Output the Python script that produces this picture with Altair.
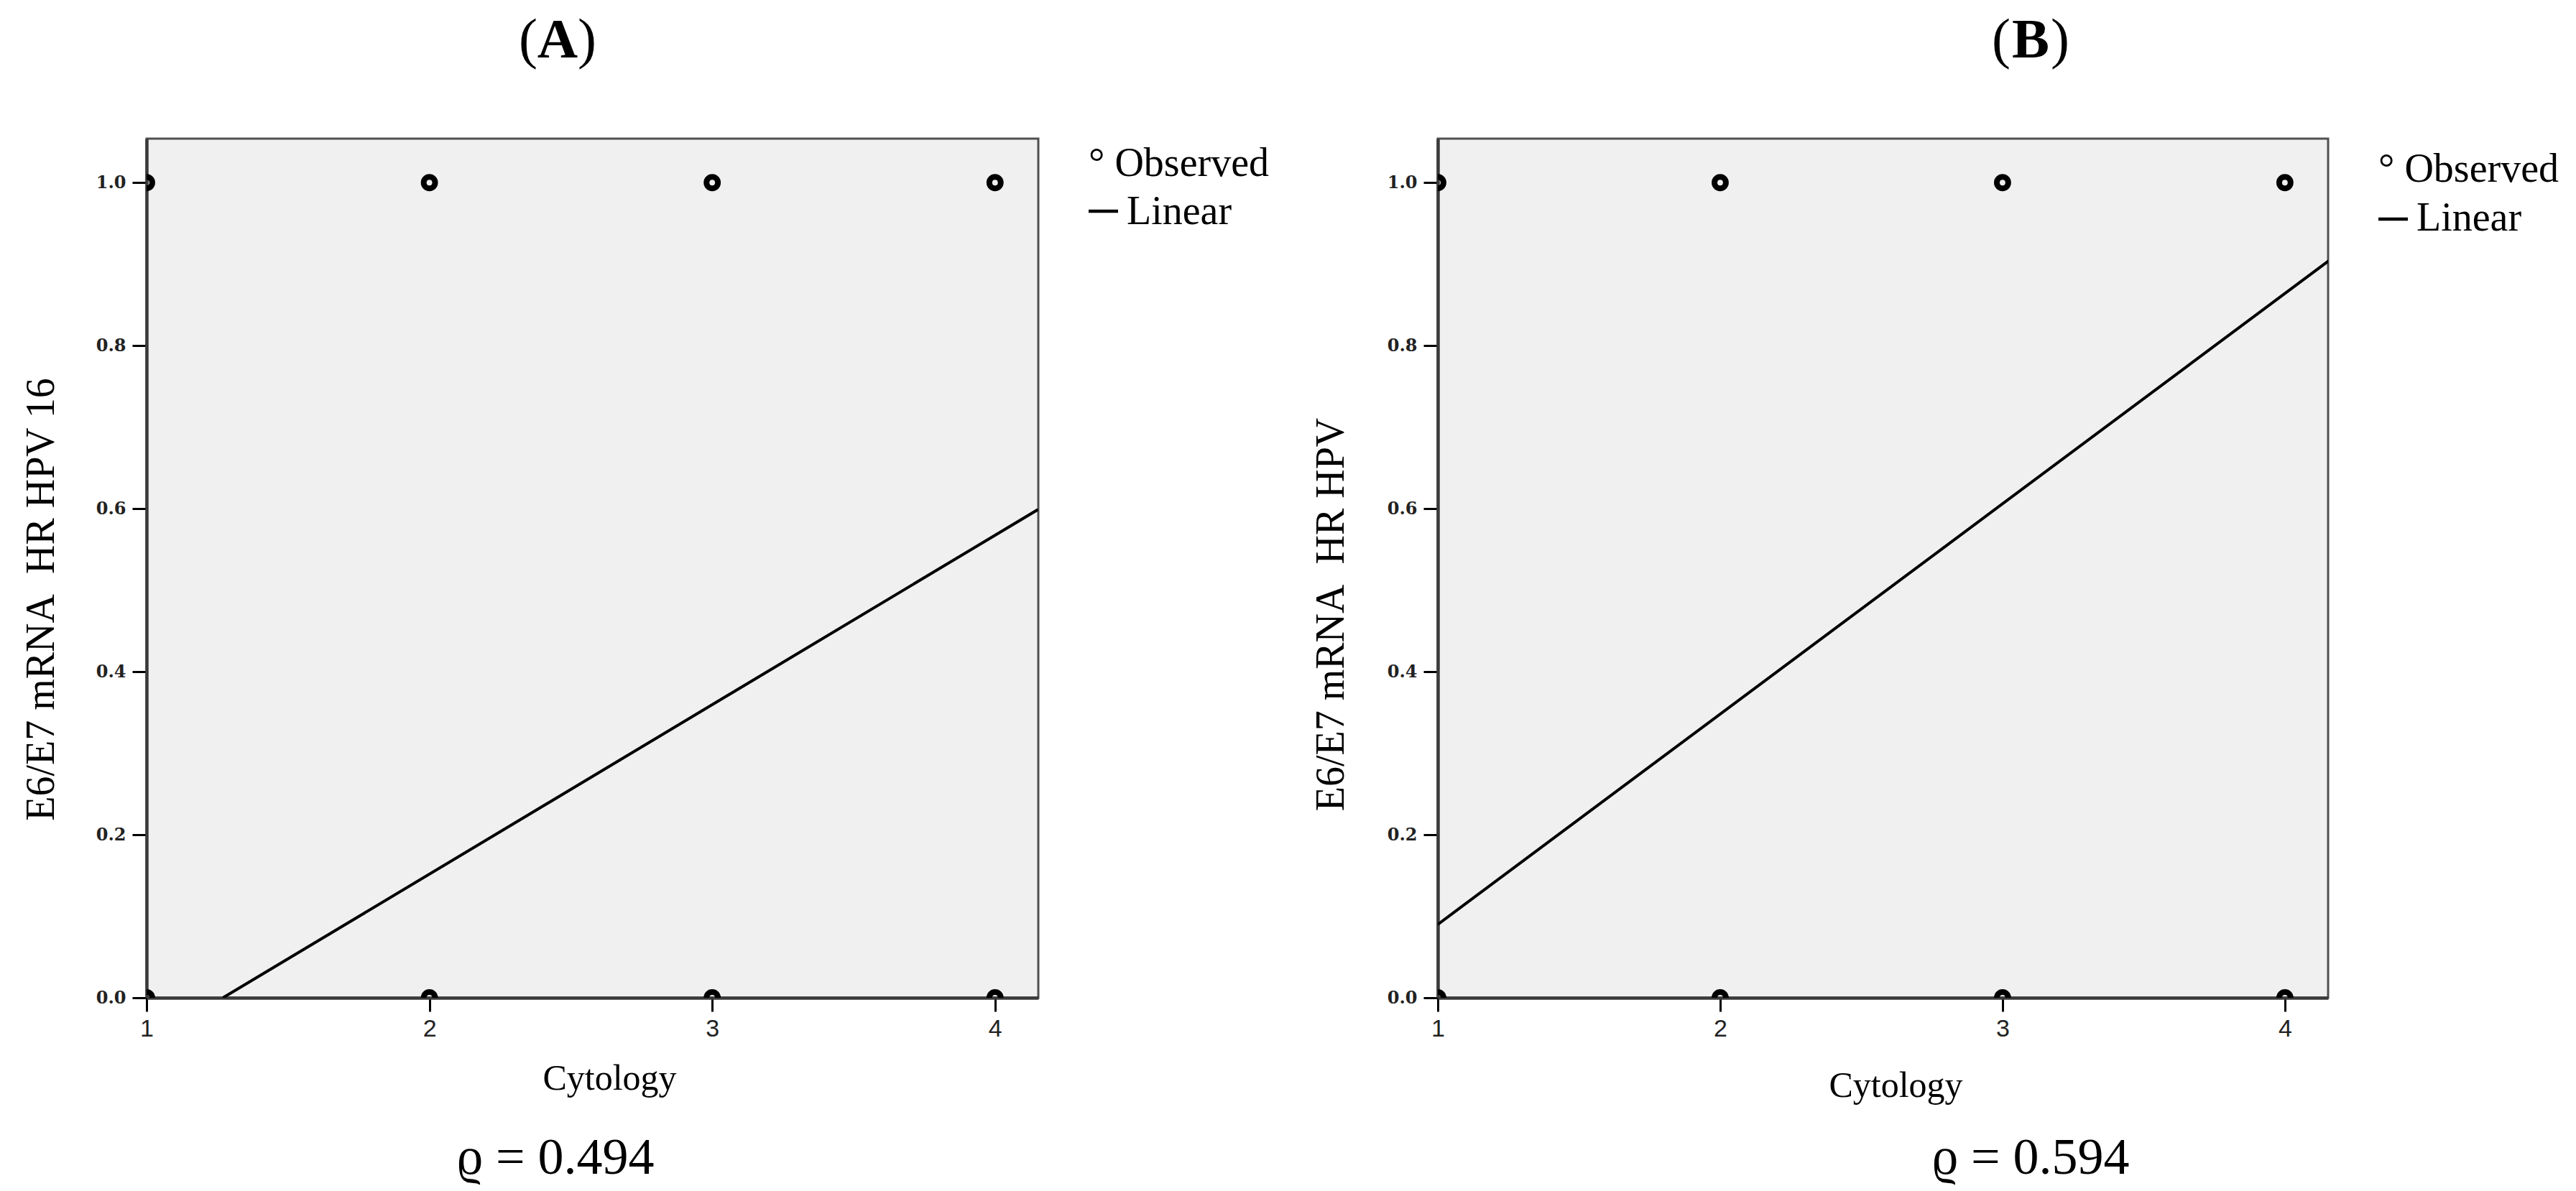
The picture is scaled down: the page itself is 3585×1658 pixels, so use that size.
import altair as alt
import pandas as pd

# ---------------- data ----------------
cytology_levels = [1, 2, 3, 4]
observed_values = [0.0, 1.0]

panel_letters = ["A", "B"]
y_titles = ["E6/E7 mRNA\u00a0 HR HPV 16", "E6/E7 mRNA\u00a0 HR HPV"]
x_title = "Cytology"
rho_labels = ["\u03f1 = 0.494", "\u03f1 = 0.594"]

# fitted linear lines (end points)
fit_x_A = [1.27, 4.152]
fit_y_A = [0.0, 0.599]
fit_x_B = [1.0, 4.155]
fit_y_B = [0.090, 0.904]

x_ticks = [1, 2, 3, 4]
y_ticks = [0.0, 0.2, 0.4, 0.6, 0.8, 1.0]
legend_labels = ["\u00b0 Observed", "Linear"]

# ---------------- layout constants ----------------
H = 1196
WIDTHS = [1241, 1239]
X_MAX = 4.153
Y_MAX = 1.054
SERIF = "Liberation Serif, Times New Roman, serif"

geo = {
    "A": dict(ytitle_x=-130, ytitle_y=641, xtitle_x=644, xtitle_y=127,
              title_cx=572, title_y=-113, rho_cx=569, rho_y=1441,
              leg_x=1311, leg_y1=52, leg_y2=119, dash_y=101),
    "B": dict(ytitle_x=-132, ytitle_y=662, xtitle_x=637, xtitle_y=137,
              title_cx=825, title_y=-113, rho_cx=825, rho_y=1441,
              leg_x=1309, leg_y1=60, leg_y2=128, dash_y=112),
}


def text_layer(label, x, y, size, align="center", weight="normal", font=SERIF):
    return alt.Chart(pd.DataFrame({"t": [label]})).mark_text(
        font=font, fontSize=size, fontWeight=weight, align=align,
        baseline="alphabetic", color="black"
    ).encode(x=alt.value(x), y=alt.value(y), text="t:N")


def panel(idx):
    letter = panel_letters[idx]
    g = geo[letter]
    W = WIDTHS[idx]
    fx, fy = (fit_x_A, fit_y_A) if letter == "A" else (fit_x_B, fit_y_B)

    pts = pd.DataFrame(
        [{"cytology": c, "value": v} for v in observed_values for c in cytology_levels]
    )
    fit = pd.DataFrame({"cytology": fx, "value": fy})

    xs = alt.Scale(domain=[1, X_MAX], nice=False, zero=False)
    ys = alt.Scale(domain=[0, Y_MAX], nice=False, zero=False)

    xaxis = alt.Axis(
        values=x_ticks, format="d", title=x_title,
        titleX=g["xtitle_x"], titleY=g["xtitle_y"], titleBaseline="alphabetic",
        titleAlign="center", titleFont=SERIF, titleFontSize=50,
        titleFontWeight="normal", titleColor="black",
        labelFont="Liberation Sans, Arial, sans-serif", labelFontSize=34,
        labelColor="#222", labelPadding=7, labelFlush=False, labelOverlap=False,
        tickSize=19, tickWidth=3, tickColor="black",
        domainWidth=4.5, domainColor="#3a3a3a", grid=False,
    )
    yaxis = alt.Axis(
        values=y_ticks, format=".1f", title=y_titles[idx],
        titleX=g["ytitle_x"], titleY=g["ytitle_y"], titleAngle=270,
        titleBaseline="alphabetic", titleAlign="center", titleFont=SERIF,
        titleFontSize=56, titleFontWeight="normal", titleColor="black",
        labelFont="DejaVu Serif, serif", labelFontWeight="bold", labelFontSize=24,
        labelColor="#222", labelPadding=9, labelFlush=False, labelOverlap=False,
        tickSize=20, tickWidth=3, tickColor="black",
        domainWidth=4.5, domainColor="#3a3a3a", grid=False,
    )

    points = alt.Chart(pts).mark_point(
        shape="circle", filled=False, size=250, strokeWidth=8,
        color="black", opacity=1, clip=True,
    ).encode(
        x=alt.X("cytology:Q", scale=xs, axis=xaxis),
        y=alt.Y("value:Q", scale=ys, axis=yaxis),
    )
    line = alt.Chart(fit).mark_line(color="black", strokeWidth=4, clip=True).encode(
        x=alt.X("cytology:Q", scale=xs, axis=xaxis),
        y=alt.Y("value:Q", scale=ys, axis=yaxis),
    )
    legend_dash = alt.Chart(pd.DataFrame({"k": [0]})).mark_rule(
        color="black", strokeWidth=4.5
    ).encode(
        x=alt.value(g["leg_x"]), x2=alt.value(g["leg_x"] + 41),
        y=alt.value(g["dash_y"]),
    )

    cx = g["title_cx"]
    layers = [
        points,
        line,
        text_layer("(", cx - 28, g["title_y"], 78, align="right"),
        text_layer(letter, cx, g["title_y"], 78, align="center", weight="bold"),
        text_layer(")", cx + 28, g["title_y"], 78, align="left"),
        text_layer(rho_labels[idx], g["rho_cx"], g["rho_y"], 72),
        text_layer(legend_labels[0], g["leg_x"], g["leg_y1"], 56, align="left"),
        legend_dash,
        text_layer(legend_labels[1], g["leg_x"] + 53, g["leg_y2"], 56, align="left"),
    ]
    return alt.layer(*layers).properties(width=W, height=H)


chart = alt.hconcat(panel(0), panel(1), spacing=556, bounds="flush").properties(
    padding={"left": 19, "top": 8, "right": 5, "bottom": 5},
    background="white",
).configure_view(
    fill="#f0f0f0", stroke="#505050", strokeWidth=3
)

chart.save("out.html", embed_options={"renderer": "svg", "actions": False})
